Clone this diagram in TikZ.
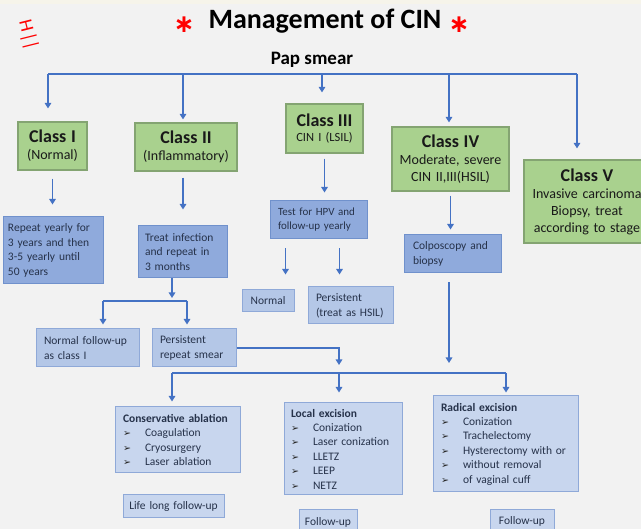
\documentclass[tikz,border=0pt]{standalone}
\usepackage{fontspec}
\setmainfont{Carlito}
\newfontfamily\symfont{DejaVu Sans}
\usepackage{xcolor}
\usetikzlibrary{shapes, arrows.meta, positioning, calc}

\definecolor{cinline}{HTML}{4472C4}
\definecolor{cingreen}{HTML}{A9D18E}
\definecolor{cingreenedge}{HTML}{84A472}
\definecolor{cinblue}{HTML}{8FAADC}
\definecolor{cinblueedge}{HTML}{7091CC}
\definecolor{cinpale}{HTML}{B4C7E7}
\definecolor{cinpaler}{HTML}{C8D6EE}
\definecolor{cinpaleedge}{HTML}{8FA9D8}
\definecolor{cinback}{HTML}{F2F2F2}
\definecolor{cintop}{HTML}{F6F4EA}
\definecolor{cintext}{HTML}{26324A}

\newcommand{\ctitle}[1]{{\bfseries\fontsize{18}{19}\selectfont #1}\\}
\newcommand{\bul}[1]{\makebox[22pt][l]{\color{black!85}\symfont\fontsize{9.5}{9.5}\selectfont ➢}#1}

\tikzset{
    classbox/.style={draw=cingreenedge, line width=1.2pt, fill=cingreen, align=center,
        inner sep=0pt, text=black!90, font=\fontsize{14}{17}\selectfont},
    stepbox/.style={draw=cinblueedge, line width=1pt, fill=cinblue, align=left,
        inner ysep=0pt, text=cintext, font=\fontsize{11.5}{14.7}\selectfont},
    notebox/.style={stepbox, draw=cinpaleedge, fill=cinpale},
    treatbox/.style={notebox, fill=cinpaler, font=\fontsize{11.5}{14.4}\selectfont},
    bus/.style={draw=cinline, line width=1.8pt},
    link/.style={bus, -{Triangle[length=5.5pt,width=6.5pt]}},
    starmark/.style={text=red, font=\symfont\bfseries\fontsize{25}{25}\selectfont}
}

\begin{document}
\begin{tikzpicture}[x=1pt, y=-1pt]  % 1 unit = 1 px of the reference, y downwards
    % canvas
    \clip (0,0) rectangle (641,529);
    \fill[cinback] (0,0) rectangle (641,529);
    \fill[cintop] (0,0) rectangle (641,4);

    % heading
    \node[font=\bfseries\fontsize{28}{30}\selectfont] (title) at (325,21) {Management of CIN};
    \node[starmark] (starL) at (184,25) {∗};
    \node[starmark] (starR) at (459,25) {∗};
    \node[text=red, rotate=-76, inner sep=0pt, font=\fontsize{19}{19}\selectfont] (mark) at (28,35) {H\kern2pt||};
    \node[font=\bfseries\fontsize{19}{21}\selectfont] (pap) at (312,60) {Pap smear};

    % top row - the five classes
    \node[classbox, text width=69pt, minimum height=48pt] (c1) at (52.5,146)
        {\ctitle{Class I}(Normal)};
    \node[classbox, text width=102pt, minimum height=48pt] (c2) at (186,147)
        {\ctitle{Class II}(Inflammatory)};
    \node[classbox, text width=77pt, minimum height=49pt, font=\fontsize{12.5}{15}\selectfont] (c3) at (324.5,128.5)
        {\ctitle{Class III}CIN I (LSIL)};
    \node[classbox, text width=117pt, minimum height=64pt] (c4) at (450.5,159)
        {\ctitle{Class IV}Moderate, severe\\CIN II,III(HSIL)};
    \node[classbox, text width=126pt, minimum height=83pt] (c5) at (587,201.5)
        {\ctitle{Class V}Invasive carcinoma\\Biopsy, treat\\according to stage};

    % bus from the smear
    \foreach \i/\x in {1/48, 2/183, 3/322, 4/449, 5/577}
        \coordinate (d\i) at (\x,74);
    \draw[bus] (d1) -- (d5);
    \foreach \d/\n/\s in {d1/c1/13, d2/c2/3, d3/c3/11, d4/c4/4, d5/c5/11}
        \draw[link, shorten >=\s pt] (\d) -- (\d |- \n.north);

    % second row
    \node[stepbox, text width=90pt, inner xsep=5pt, minimum height=67pt] (r1) at (53,250.5)
        {Repeat yearly for\\3 years and then\\3-5 yearly until\\50 years};
    \node[stepbox, text width=75pt, inner xsep=7pt, minimum height=52pt] (r2) at (182.5,252)
        {Treat infection\\and repeat in\\3 months};
    \node[stepbox, text width=81pt, inner xsep=8pt, minimum height=38pt, font=\fontsize{11}{14}\selectfont] (r3) at (318.5,220)
        {Test for HPV and\\follow-up yearly};
    \node[stepbox, text width=79pt, inner xsep=9pt, minimum height=38pt] (r4) at (452.5,254)
        {Colposcopy and\\biopsy};

    \draw[link, shorten <=8pt, shorten >=12pt] (c1.south) -- (c1.south |- r1.north);
    \draw[link, shorten <=6pt, shorten >=16pt] (c2.south -| d2) -- (d2 |- r2.north);
    \draw[link, shorten <=5pt, shorten >=8pt] (c3.south) -- (c3.south |- r3.north);
    \draw[link, shorten <=4pt, shorten >=5pt] (c4.south) -- (c4.south |- r4.north);

    % class III outcomes
    \node[notebox, text width=38pt, inner xsep=7pt, minimum height=22pt, align=center] (n1) at (268,301) {Normal};
    \node[notebox, text width=69pt, inner xsep=8pt, minimum height=37pt] (n2) at (350.5,305.5)
        {Persistent\\(treat as HSIL)};
    \draw[link, shorten <=9pt, shorten >=15pt] ([xshift=-33pt]r3.south) -- ([xshift=-33pt]r3.south |- n1.north);
    \draw[link, shorten <=9pt, shorten >=12pt] ([xshift=21pt]r3.south) -- ([xshift=21pt]r3.south |- n2.north);

    % class II outcomes
    \node[notebox, text width=87pt, inner xsep=8pt, minimum height=38pt] (n3) at (87.5,348)
        {Normal follow-up\\as class I};
    \node[notebox, text width=68pt, inner xsep=8pt, minimum height=38pt] (n4) at (194,348)
        {Persistent\\repeat smear};
    \coordinate (sp) at (172,301);
    \coordinate (spL) at (103,301);
    \coordinate (spR) at (187,301);
    \draw[link, shorten >=3pt] (sp |- r2.south) -- (sp);
    \draw[bus] (spL) -- (spR);
    \draw[link, shorten >=4pt] (spL) -- (spL |- n3.north);
    \draw[link, shorten >=4pt] (spR) -- (spR |- n4.north);

    % treatment row
    \node[treatbox, text width=109pt, inner xsep=8pt, minimum height=66pt] (t1) at (177.5,440)
        {\textbf{Conservative ablation}\\\bul{Coagulation}\\\bul{Cryosurgery}\\\bul{Laser ablation}};
    \node[treatbox, text width=104pt, inner xsep=7pt, minimum height=92pt] (t2) at (343,449)
        {\textbf{Local excision}\\\bul{Conization}\\\bul{Laser conization}\\\bul{LLETZ}\\\bul{LEEP}\\\bul{NETZ}};
    \node[treatbox, text width=129pt, inner xsep=8pt, minimum height=96pt] (t3) at (505.5,444)
        {\textbf{Radical excision}\\\bul{Conization}\\\bul{Trachelectomy}\\\bul{Hysterectomy with or}\\\bul{without removal}\\\bul{of vaginal cuff}};

    \coordinate (lbL) at (172,373);
    \coordinate (lbM) at (339,373);
    \coordinate (lbR) at (506,373);
    \draw[link, shorten >=8pt] (n4.east) -| (lbM);
    \draw[link, shorten <=9pt, shorten >=10pt] (r4.south -| d4) -- (d4 |- lbM);
    \draw[bus] (lbL) -- (lbR);
    \draw[link, shorten >=5pt] (lbL) -- (lbL |- t1.north);
    \draw[link, shorten >=10pt] (lbM) -- (lbM |- t2.north);
    \draw[link, shorten >=3pt] (lbR) -- (lbR |- t3.north);

    % follow-up boxes
    \node[treatbox, text width=101pt, inner xsep=0pt, minimum height=23pt, align=center] (f1) at (173.5,506.5) {Life long follow-up};
    \node[treatbox, text width=58pt, inner xsep=0pt, minimum height=24pt, align=center] (f2) at (328,522) {Follow-up};
    \node[treatbox, text width=64pt, inner xsep=0pt, minimum height=22pt, align=center] (f3) at (522,521) {Follow-up};
\end{tikzpicture}
\end{document}
